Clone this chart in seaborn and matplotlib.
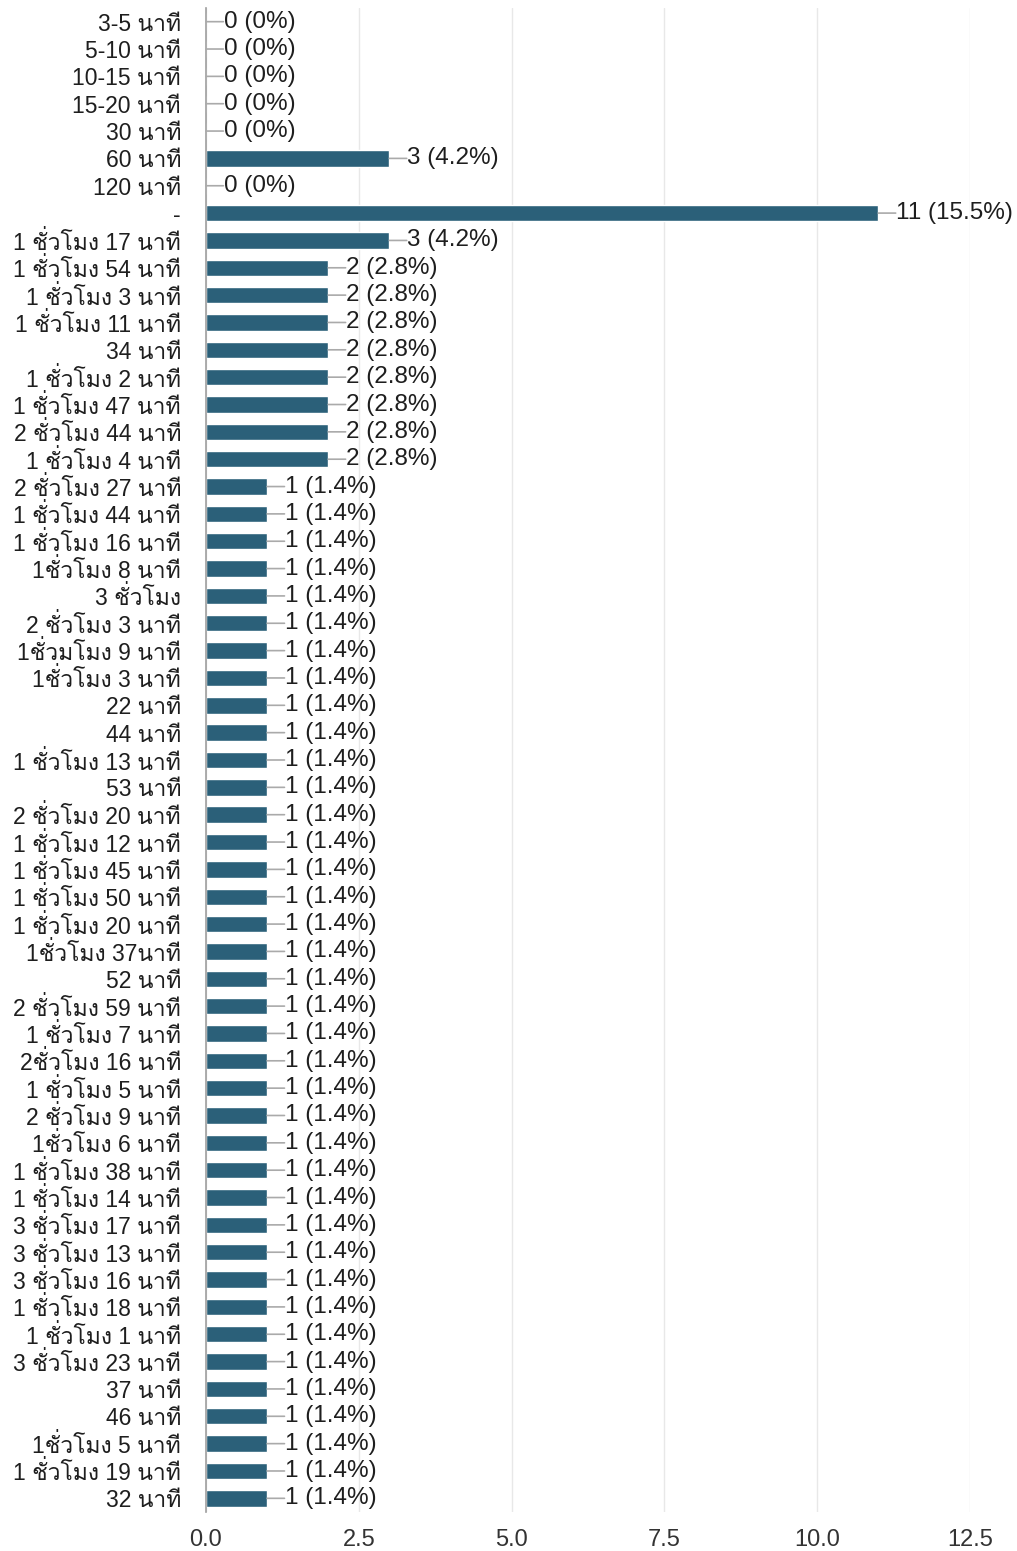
import matplotlib
matplotlib.use("Agg")
import matplotlib.pyplot as plt
import seaborn as sns
import pandas as pd
from matplotlib import font_manager, ft2font

labels = [
    "3-5 นาที", "5-10 นาที", "10-15 นาที", "15-20 นาที", "30 นาที", "60 นาที",
    "120 นาที", "-", "1 ชั่วโมง 17 นาที", "1 ชั่วโมง 54 นาที", "1 ชั่วโมง 3 นาที",
    "1 ชั่วโมง 11 นาที", "34 นาที", "1 ชั่วโมง 2 นาที", "1 ชั่วโมง 47 นาที",
    "2 ชั่วโมง 44 นาที", "1 ชั่วโมง 4 นาที", "2 ชั่วโมง 27 นาที", "1 ชั่วโมง 44 นาที",
    "1 ชั่วโมง 16 นาที", "1ชั่วโมง 8 นาที", "3 ชั่วโมง", "2 ชั่วโมง 3 นาที",
    "1ชั่วมโมง 9 นาที", "1ชั่วโมง 3 นาที", "22 นาที", "44 นาที", "1 ชั่วโมง 13 นาที",
    "53 นาที", "2 ชั่วโมง 20 นาที", "1 ชั่วโมง 12 นาที", "1 ชั่วโมง 45 นาที",
    "1 ชั่วโมง 50 นาที", "1 ชั่วโมง 20 นาที", "1ชั่วโมง 37นาที", "52 นาที",
    "2 ชั่วโมง 59 นาที", "1 ชั่วโมง 7 นาที", "2ชั่วโมง 16 นาที", "1 ชั่วโมง 5 นาที",
    "2 ชั่วโมง 9 นาที", "1ชั่วโมง 6 นาที", "1 ชั่วโมง 38 นาที", "1 ชั่วโมง 14 นาที",
    "3 ชั่วโมง 17 นาที", "3 ชั่วโมง 13 นาที", "3 ชั่วโมง 16 นาที", "1 ชั่วโมง 18 นาที",
    "1 ชั่วโมง 1 นาที", "3 ชั่วโมง 23 นาที", "37 นาที", "46 นาที", "1ชั่วโมง 5 นาที",
    "1 ชั่วโมง 19 นาที", "32 นาที",
]
counts = [0, 0, 0, 0, 0, 3, 0, 11, 3, 2, 2, 2, 2, 2, 2, 2, 2] + [1] * 38
x_ticks = [0.0, 2.5, 5.0, 7.5, 10.0, 12.5]
x_tick_labels = ["0.0", "2.5", "5.0", "7.5", "10.0", "12.5"]

# find a font that has Thai glyphs
thai_font = None
for f in font_manager.fontManager.ttflist:
    try:
        ft = ft2font.FT2Font(f.fname)
        cmap = ft.get_charmap()
        if 0x0E19 in cmap and 0x0E35 in cmap:
            thai_font = f.name
            break
    except Exception:
        pass

sns.set_theme(style="white")
fams = ["Liberation Sans"]
if thai_font:
    fams.append(thai_font)
fams.append("DejaVu Sans")
plt.rcParams["font.family"] = fams

df = pd.DataFrame({"label": labels, "count": counts})
total = sum(counts)

fig = plt.figure(figsize=(10.17, 15.51), dpi=100)
ax = fig.add_axes([206 / 1017, 1 - 1512 / 1551, 764 / 1017, (1512 - 8) / 1551])

bar_color = "#2b6079"
sns.barplot(data=df, x="count", y="label", orient="h", color=bar_color,
            width=0.6, saturation=1, ax=ax, order=labels)

ax.set_xlim(0, 12.5)
ax.set_ylim(len(labels) - 0.5, -0.5)
ax.set_xticks(x_ticks)
ax.set_xticklabels(x_tick_labels)
ax.set_xlabel("")
ax.set_ylabel("")
ax.grid(axis="x", color="#e8e8e8", linewidth=1)
ax.grid(axis="y", visible=False)
ax.set_axisbelow(True)
for s in ["top", "right", "bottom"]:
    ax.spines[s].set_visible(False)
ax.spines["left"].set_color("#9e9e9e")
ax.spines["left"].set_linewidth(1.2)
ax.tick_params(axis="y", length=0, pad=18, labelsize=16.5, labelcolor="#1e1e1e")
ax.tick_params(axis="x", length=0, pad=12, labelsize=17, labelcolor="#333333")

for i, c in enumerate(counts):
    if c == 0:
        txt = "0 (0%)"
    else:
        txt = f"{c} ({c / total * 100:.1f}%)"
    ax.annotate("", xy=(c, i), xytext=(12.5, 0), textcoords="offset points",
                arrowprops=dict(arrowstyle="-", color="#aaaaaa", lw=1.2,
                                shrinkA=0, shrinkB=0))
    ax.annotate(txt, xy=(c, i), xytext=(13, 0), textcoords="offset points",
                va="center", ha="left", fontsize=17.5, color="#1e1e1e")

fig.savefig("out.png", dpi=100)
